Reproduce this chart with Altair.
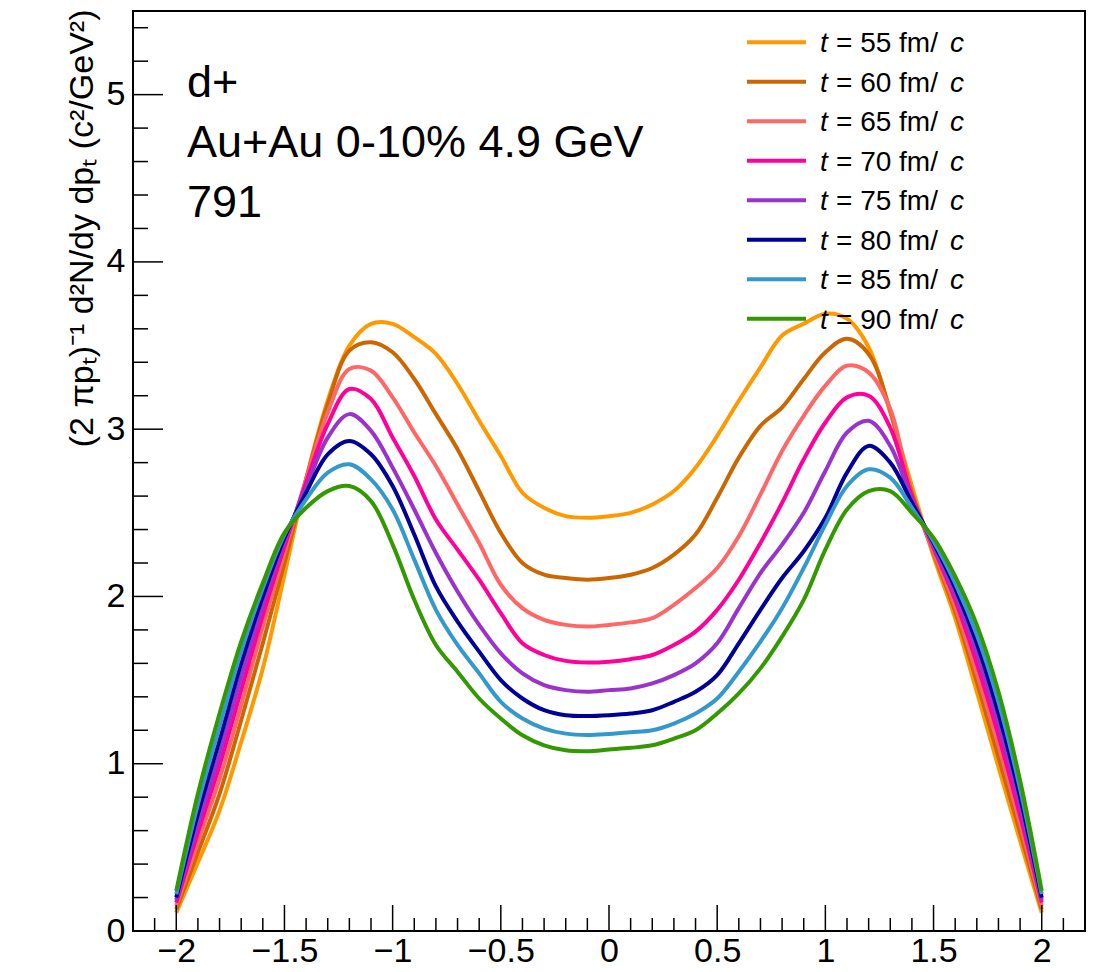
import altair as alt
import pandas as pd

FONT = "Liberation Sans"

# ---------------- data ----------------
x_vals = [-2.0, -1.9, -1.8, -1.7, -1.6, -1.5, -1.4, -1.3, -1.2, -1.1,
          -1.0, -0.9, -0.8, -0.7, -0.6, -0.5, -0.4, -0.3, -0.2, -0.1,
          0.0, 0.1, 0.2, 0.3, 0.4, 0.5, 0.6, 0.7, 0.8, 0.9,
          1.0, 1.1, 1.2, 1.3, 1.4, 1.5, 1.6, 1.7, 1.8, 1.9, 2.0]

t55 = [0.11, 0.41, 0.72, 1.13, 1.57, 2.13, 2.70, 3.17, 3.50, 3.63,
       3.63, 3.55, 3.45, 3.27, 3.05, 2.84, 2.62, 2.53, 2.48, 2.47,
       2.48, 2.50, 2.55, 2.63, 2.77, 2.96, 3.17, 3.37, 3.56, 3.63,
       3.69, 3.66, 3.49, 3.10, 2.66, 2.24, 1.87, 1.43, 0.98, 0.54, 0.11]
t60 = [0.13, 0.47, 0.82, 1.26, 1.72, 2.20, 2.70, 3.15, 3.47, 3.52,
       3.46, 3.30, 3.09, 2.88, 2.63, 2.38, 2.20, 2.13, 2.11, 2.10,
       2.11, 2.13, 2.17, 2.25, 2.37, 2.59, 2.83, 3.02, 3.13, 3.30,
       3.46, 3.54, 3.45, 3.11, 2.62, 2.26, 1.91, 1.49, 1.04, 0.59, 0.13]
t65 = [0.15, 0.53, 0.91, 1.35, 1.82, 2.26, 2.70, 3.10, 3.36, 3.35,
       3.19, 2.98, 2.78, 2.55, 2.32, 2.07, 1.93, 1.86, 1.83, 1.82,
       1.83, 1.845, 1.87, 1.95, 2.05, 2.17, 2.36, 2.61, 2.87, 3.08,
       3.26, 3.38, 3.34, 3.12, 2.60, 2.27, 1.94, 1.54, 1.11, 0.64, 0.15]
t70 = [0.17, 0.59, 0.99, 1.44, 1.89, 2.30, 2.68, 3.03, 3.24, 3.18,
       2.95, 2.72, 2.46, 2.28, 2.10, 1.90, 1.72, 1.65, 1.615, 1.605,
       1.61, 1.625, 1.65, 1.71, 1.79, 1.92, 2.10, 2.32, 2.56, 2.82,
       3.04, 3.19, 3.20, 3.01, 2.60, 2.29, 1.98, 1.60, 1.17, 0.69, 0.17]
t75 = [0.185, 0.64, 1.06, 1.52, 1.95, 2.33, 2.65, 2.95, 3.09, 2.99,
       2.77, 2.52, 2.26, 2.03, 1.83, 1.66, 1.54, 1.47, 1.44, 1.43,
       1.44, 1.45, 1.48, 1.53, 1.60, 1.72, 1.93, 2.14, 2.31, 2.50,
       2.75, 2.98, 3.05, 2.90, 2.58, 2.30, 2.01, 1.66, 1.24, 0.75, 0.185]
t80 = [0.20, 0.70, 1.14, 1.60, 2.00, 2.35, 2.62, 2.85, 2.93, 2.85,
       2.66, 2.37, 2.06, 1.85, 1.67, 1.50, 1.39, 1.32, 1.29, 1.285,
       1.29, 1.30, 1.32, 1.37, 1.43, 1.53, 1.72, 1.92, 2.11, 2.27,
       2.47, 2.74, 2.90, 2.80, 2.56, 2.32, 2.05, 1.72, 1.30, 0.80, 0.20]
t85 = [0.22, 0.76, 1.22, 1.67, 2.05, 2.37, 2.58, 2.74, 2.79, 2.70,
       2.52, 2.22, 1.92, 1.71, 1.54, 1.37, 1.27, 1.21, 1.18, 1.172,
       1.178, 1.188, 1.20, 1.24, 1.30, 1.39, 1.55, 1.73, 1.93, 2.17,
       2.43, 2.66, 2.76, 2.71, 2.53, 2.33, 2.08, 1.77, 1.37, 0.85, 0.22]
t90 = [0.24, 0.82, 1.30, 1.73, 2.08, 2.38, 2.53, 2.63, 2.66, 2.57,
       2.31, 1.98, 1.71, 1.55, 1.39, 1.27, 1.17, 1.11, 1.08, 1.075,
       1.085, 1.095, 1.11, 1.15, 1.20, 1.30, 1.42, 1.57, 1.76, 1.98,
       2.28, 2.52, 2.63, 2.63, 2.50, 2.35, 2.12, 1.83, 1.43, 0.90, 0.24]

series_keys = ["55", "60", "65", "70", "75", "80", "85", "90"]
series_vals = [t55, t60, t65, t70, t75, t80, t85, t90]
legend_mid = ["= 55 fm/", "= 60 fm/", "= 65 fm/", "= 70 fm/",
              "= 75 fm/", "= 80 fm/", "= 85 fm/", "= 90 fm/"]
colors = ["#FF9900", "#CC6600", "#FF6666", "#FF0099",
          "#9933CC", "#000099", "#3399CC", "#339900"]

x_major = [-2, -1.5, -1, -0.5, 0, 0.5, 1, 1.5, 2]
x_minor = [-2.1, -1.9, -1.8, -1.7, -1.6, -1.4, -1.3, -1.2, -1.1,
           -0.9, -0.8, -0.7, -0.6, -0.4, -0.3, -0.2, -0.1,
           0.1, 0.2, 0.3, 0.4, 0.6, 0.7, 0.8, 0.9,
           1.1, 1.2, 1.3, 1.4, 1.6, 1.7, 1.8, 1.9, 2.1]
y_major = [0, 1, 2, 3, 4, 5]
y_minor = [0.2, 0.4, 0.6, 0.8, 1.2, 1.4, 1.6, 1.8, 2.2, 2.4, 2.6, 2.8,
           3.2, 3.4, 3.6, 3.8, 4.2, 4.4, 4.6, 4.8, 5.2, 5.4]

annotations = ["d+", "Au+Au 0-10% 4.9 GeV", "791"]
y_title = "(2 \u03c0p\u209c)\u207b\u00b9 d\u00b2N/dy dp\u209c  (c\u00b2/GeV\u00b2)"

# ---------------- tables ----------------
rows = []
for key, vals in zip(series_keys, series_vals):
    for xv, vv in zip(x_vals, vals):
        rows.append({"x": xv, "v": vv, "series": key})
df = pd.DataFrame(rows)

W, H = 952, 920
xscale = alt.Scale(domain=[-2.2, 2.2], nice=False, zero=False)
yscale = alt.Scale(domain=[0, 5.5], nice=False, zero=False)
cscale = alt.Scale(domain=series_keys, range=colors)

x_axis = alt.Axis(values=x_major, format="~g", title=None, grid=False,
                  ticks=False, tickSize=0, domain=False,
                  labelFont=FONT, labelFontSize=34, labelColor="black",
                  labelPadding=3, labelFlush=False)
y_axis = alt.Axis(values=y_major, format="d", title=y_title, grid=False,
                  ticks=False, tickSize=0, domain=False,
                  labelFont=FONT, labelFontSize=34, labelColor="black",
                  labelPadding=8, labelFlush=False,
                  titleFont=FONT, titleFontSize=34, titleFontWeight="normal",
                  titleColor="black", titleAngle=270, titleAlign="right",
                  titleBaseline="alphabetic", titleX=-41, titleY=-2)

X = alt.X("x:Q", scale=xscale, axis=x_axis)
Y = alt.Y("v:Q", scale=yscale, axis=y_axis)

lines = alt.Chart(df).mark_line(strokeWidth=4, interpolate="catmull-rom").encode(
    x=X, y=Y, color=alt.Color("series:N", scale=cscale, legend=None),
)

tick_color = "black"
xt_major = alt.Chart(pd.DataFrame({"x": x_major})).mark_rule(
    color=tick_color, strokeWidth=1.5).encode(x=X, y=alt.value(H - 26), y2=alt.value(H))
xt_minor = alt.Chart(pd.DataFrame({"x": x_minor})).mark_rule(
    color=tick_color, strokeWidth=1.5).encode(x=X, y=alt.value(H - 13), y2=alt.value(H))
yt_major = alt.Chart(pd.DataFrame({"v": y_major})).mark_rule(
    color=tick_color, strokeWidth=1.5).encode(y=Y, x=alt.value(0), x2=alt.value(30))
yt_minor = alt.Chart(pd.DataFrame({"v": y_minor})).mark_rule(
    color=tick_color, strokeWidth=1.5).encode(y=Y, x=alt.value(0), x2=alt.value(15))

ann_layers = []
for i, txt in enumerate(annotations):
    ann_layers.append(
        alt.Chart(pd.DataFrame({"t": [txt]})).mark_text(
            font=FONT, fontSize=45, align="left", baseline="alphabetic", color="black"
        ).encode(text="t:N", x=alt.value(54), y=alt.value(86 + 60 * i))
    )

main = alt.layer(lines, xt_minor, xt_major, yt_minor, yt_major, *ann_layers)

# ---------------- legend ----------------
leg_df = pd.DataFrame({"row": list(range(len(series_keys))),
                       "series": series_keys, "mid": legend_mid})
leg_y = alt.Y("row:Q", scale=alt.Scale(domain=[0, 7], range=[31.3, 307.7]), axis=None)

leg_lines = alt.Chart(leg_df).mark_rule(strokeWidth=4).encode(
    x=alt.value(614), x2=alt.value(673), y=leg_y,
    color=alt.Color("series:N", scale=cscale, legend=None))
leg_t = alt.Chart(leg_df).mark_text(
    text="t", font=FONT, fontStyle="italic", fontSize=28, align="left",
    baseline="alphabetic", dy=10, color="black").encode(x=alt.value(687), y=leg_y)
leg_mid = alt.Chart(leg_df).mark_text(
    font=FONT, fontSize=28, align="left", baseline="alphabetic", dy=10,
    color="black").encode(x=alt.value(703), y=leg_y, text="mid:N")
leg_c = alt.Chart(leg_df).mark_text(
    text="c", font=FONT, fontStyle="italic", fontSize=28, align="left",
    baseline="alphabetic", dy=10, color="black").encode(x=alt.value(817), y=leg_y)

legend = alt.layer(leg_lines, leg_t, leg_mid, leg_c)

chart = alt.layer(main, legend).resolve_scale(y="independent").properties(
    width=W, height=H,
    autosize=alt.AutoSizeParams(type="none"),
    padding={"left": 133, "top": 11, "right": 17, "bottom": 41},
    background="white",
).configure_view(stroke="black", strokeWidth=2)

chart.save("out.html", embed_options={"renderer": "svg", "actions": False})
